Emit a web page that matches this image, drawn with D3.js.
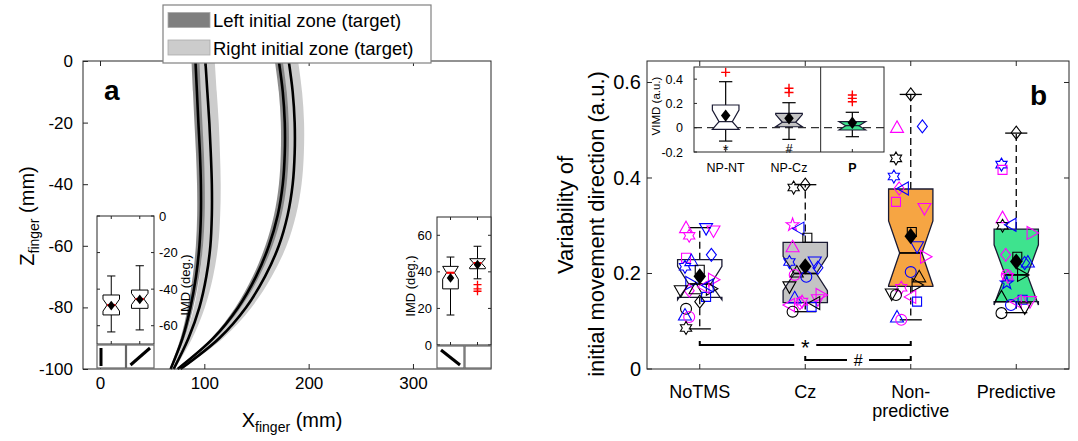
<!DOCTYPE html>
<html>
<head>
<meta charset="utf-8">
<script src="https://cdn.jsdelivr.net/npm/d3@7/dist/d3.min.js"></script>
<style>
html,body{margin:0;padding:0;background:#fff;}
svg{display:block;font-family:"Liberation Sans",Arial,Helvetica,sans-serif;}
</style>
</head>
<body>
<svg id="chart" width="1078" height="441"></svg>
<script>
// ================= DATA : panel a =================
const zLevels = [0,-10,-20,-30,-40,-50,-60,-70,-80,-90,-100];
const trajLeftTargetLZ  = [91.5,92.9,94.3,95.8,96.7,96.7,95.3,92.0,86.7,79.1,67.7];
const trajLeftTargetRZ  = [101.0,102.9,104.8,106.2,107.2,107.2,105.8,101.9,95.3,84.8,70.6];
const trajRightTargetLZ = [171.4,175.2,177.1,177.1,175.2,170.4,161.9,149.5,132.4,108.6,74.4];
const trajRightTargetRZ = [180.9,184.7,186.6,186.6,184.7,179.9,171.4,158.1,140.0,114.3,77.2];
const spreadLZ = [3.8,3.8,3.8,3.8,3.7,3.6,3.4,3.1,2.6,1.9,0.8];
const spreadRZ = [9.0,9.0,9.0,8.8,8.5,8.0,7.4,6.5,5.2,3.6,1.2];
const aXTicks = [0,100,200,300];
const aYTicks = [0,-20,-40,-60,-80,-100];
const legendLabels = ["Left initial zone (target)","Right initial zone (target)"];

// inset IMD boxes (left inset: negative angles, right inset: positive)
const imdL_q1  = [-54.1,-50.5];
const imdL_med = [-48.7,-45.4];
const imdL_q3  = [-43.2,-40.5];
const imdL_nLo = [-52.0,-48.5];
const imdL_nHi = [-45.5,-42.3];
const imdL_wLo = [-63.4,-62.3];
const imdL_wHi = [-32.8,-27.2];
const imdL_mean= [-49.0,-45.6];
const imdL_out = [[],[]];
const imdL_ticks = [0,-20,-40,-60];
const imdL_icons = ["|","/"];

const imdR_q1  = [30.7,41.7];
const imdR_med = [39.5,44.8];
const imdR_q3  = [43.0,47.2];
const imdR_nLo = [36.0,42.4];
const imdR_nHi = [43.0,47.2];
const imdR_wLo = [16.4,36.2];
const imdR_wHi = [48.1,54.0];
const imdR_mean= [36.7,43.9];
const imdR_out = [[],[33.0,30.7,29.4]];
const imdR_ticks = [0,20,40,60];
const imdR_icons = ["\\",""];

// ================= DATA : panel b =================
const conditions = ["NoTMS","Cz","Non-|predictive","Predictive"];
const bQ1    = [0.150,0.139,0.173,0.141];
const bMed   = [0.178,0.200,0.243,0.197];
const bQ3    = [0.229,0.265,0.377,0.293];
const bNLo   = [0.145,0.164,0.175,0.134];
const bNHi   = [0.215,0.236,0.310,0.260];
const bWLo   = [0.084,0.120,0.103,0.118];
const bWHi   = [0.296,0.386,0.575,0.494];
const bMean  = [0.194,0.215,0.278,0.225];
const bYTicks = [0,0.2,0.4,0.6];

// individual subjects: [value, x-jitter (category units), marker spec]
const subjNoTMS = [
 [0.296,-0.13,"^m"],[0.279,-0.10,"hm"],[0.294,0.06,"vb"],[0.289,0.13,"vm"],
 [0.233,-0.13,"sm"],[0.227,-0.08,"^b"],[0.239,0.11,"db"],[0.214,-0.14,"hb"],
 [0.208,0.00,"sk"],[0.187,0.13,">m"],[0.180,-0.085,">b"],[0.164,-0.10,"dm"],
 [0.164,-0.18,"vk"],[0.168,-0.04,"^k"],[0.168,0.11,">k"],[0.151,0.06,"sb"],
 [0.141,0.00,"dk"],[0.126,-0.13,"ok"],[0.113,-0.14,"^b"],[0.109,-0.10,"om"],
 [0.086,-0.13,"hk"],[0.172,0.04,"<m"],[0.175,0.08,"<b"]
];
const subjCz = [
 [0.380,-0.11,"hk"],[0.386,0.00,"dk"],[0.302,-0.12,"pm"],[0.294,-0.06,"<b"],
 [0.275,0.02,"sk"],[0.256,-0.12,"^m"],[0.224,-0.15,"hb"],[0.224,0.09,"vb"],
 [0.212,0.12,"db"],[0.203,-0.08,"^k"],[0.197,-0.10,"om"],[0.193,0.01,"ob"],
 [0.172,-0.15,"vk"],[0.149,-0.10,"^b"],[0.155,0.15,">m"],[0.145,0.12,"vm"],
 [0.134,-0.15,"<m"],[0.130,0.06,"sb"],[0.120,-0.12,"ok"],[0.138,-0.05,"dm"],
 [0.138,0.09,"<k"],[0.141,-0.03,"hm"]
];
const subjNonPred = [
 [0.575,0.00,"dk"],[0.506,-0.13,"^m"],[0.508,0.11,"db"],[0.441,-0.14,"hk"],
 [0.403,-0.16,"hb"],[0.378,-0.11,"dm"],[0.378,-0.07,"<b"],[0.350,-0.14,"sm"],
 [0.336,0.13,"vm"],[0.287,0.01,"sk"],[0.256,0.06,"vb"],[0.235,0.14,">m"],
 [0.203,0.00,"ob"],[0.193,0.08,"^k"],[0.176,0.06,">k"],[0.170,-0.09,"hm"],
 [0.155,-0.14,"ok"],[0.151,0.00,"<m"],[0.141,0.06,"sb"],[0.109,-0.13,"^b"],
 [0.103,-0.09,"om"],[0.157,-0.18,"vk"]
];
const subjPred = [
 [0.495,0.00,"dk"],[0.428,-0.14,"hb"],[0.417,-0.13,"sm"],[0.317,-0.13,"^m"],
 [0.300,-0.13,"hk"],[0.302,-0.05,"<b"],[0.285,0.15,">m"],[0.239,-0.10,"dm"],
 [0.235,0.01,"sk"],[0.222,0.08,"db"],[0.224,0.11,"^b"],[0.197,-0.09,"om"],
 [0.193,-0.08,"hm"],[0.197,0.06,">k"],[0.180,-0.09,"pb"],[0.151,-0.14,"^k"],
 [0.145,0.06,"sb"],[0.141,0.13,"vm"],[0.141,0.00,"<m"],[0.117,-0.14,"ok"],
 [0.128,0.08,"vk"],[0.134,-0.05,"ob"]
];
const subjects = [subjNoTMS, subjCz, subjNonPred, subjPred];

// significance brackets: [from, to, label, level]
const sigBrackets = [[1,3,"*",0.050],[2,3,"#",0.019]];

// inset (VIMD)
const insetCats = ["NP-NT","NP-Cz","P"];
const iQ1   = [-0.013,0.008,-0.019];
const iMed  = [0.050,0.045,0.017];
const iQ3   = [0.187,0.118,0.050];
const iNLo  = [-0.013,0.008,-0.019];
const iNHi  = [0.146,0.108,0.050];
const iWLo  = [-0.110,-0.096,-0.074];
const iWHi  = [0.379,0.206,0.127];
const iMean = [0.100,0.077,0.041];
const iOut  = [[0.456],[0.325,0.290],[0.270,0.242,0.214]];
const iSig  = ["*","#",""];
const iYTicks = [-0.2,0,0.2,0.4];

// ================= STYLE =================
const INK = "#262626";
const boxFills = ["#ffffff","#c4c4c4","#f6a543","#3ee38e"];
const insetFills = ["#ffffff","#c4c4c4","#3ee38e"];
const markerColors = {k:"#000000", b:"#0000ff", m:"#ff00ff"};

const svg = d3.select("#chart");

// ---------- helpers ----------
function notchPath(xc, hw, ys, q1, q3, nlo, nhi, med){
  const L = xc-hw, R = xc+hw, d = hw/2, p = d3.path();
  p.moveTo(L, ys(q3)); p.lineTo(R, ys(q3)); p.lineTo(R, ys(nhi));
  p.lineTo(R-d, ys(med)); p.lineTo(R, ys(nlo)); p.lineTo(R, ys(q1));
  p.lineTo(L, ys(q1)); p.lineTo(L, ys(nlo)); p.lineTo(L+d, ys(med));
  p.lineTo(L, ys(nhi)); p.closePath();
  return p.toString();
}
function star(n, ro, ri){
  const p = d3.path();
  for(let i=0;i<2*n;i++){
    const a = -Math.PI/2 + i*Math.PI/n, r = i%2 ? ri : ro;
    const x = r*Math.cos(a), y = r*Math.sin(a);
    i ? p.lineTo(x,y) : p.moveTo(x,y);
  }
  p.closePath(); return p.toString();
}
function poly(pts){ return "M"+pts.map(p=>p.join(",")).join("L")+"Z"; }
function markerPath(sh, k){
  k = k||1;
  switch(sh){
    case "o": return d3.symbol(d3.symbolCircle, Math.PI*30*k*k)();
    case "s": return poly([[-4.5*k,-4.5*k],[4.5*k,-4.5*k],[4.5*k,4.5*k],[-4.5*k,4.5*k]]);
    case "d": return poly([[0,-6.5*k],[5*k,0],[0,6.5*k],[-5*k,0]]);
    case "^": return poly([[0,-6.5*k],[6.5*k,5*k],[-6.5*k,5*k]]);
    case "v": return poly([[0,6.5*k],[6.5*k,-5*k],[-6.5*k,-5*k]]);
    case ">": return poly([[6.5*k,0],[-5*k,-6.5*k],[-5*k,6.5*k]]);
    case "<": return poly([[-6.5*k,0],[5*k,-6.5*k],[5*k,6.5*k]]);
    case "h": return star(6, 6.5*k, 3.75*k);
    case "p": return star(5, 6.8*k, 2.7*k);
  }
}
function frame(g, x0, y0, x1, y1, col){
  g.append("rect").attr("x",x0).attr("y",y0).attr("width",x1-x0).attr("height",y1-y0)
   .attr("fill","none").attr("stroke",col||INK).attr("stroke-width",1);
}

// ================= PANEL a =================
const A = {l:83, r:491, t:61, b:369};
const xA = d3.scaleLinear().domain([-16.3, 374.8]).range([A.l, A.r]);
const yA = d3.scaleLinear().domain([-100, 0]).range([A.b, A.t]);
const gA = svg.append("g");

const bandGen = (mean, spread) => d3.area().curve(d3.curveCatmullRom)
   .y((d,i)=>yA(d)).x0((d,i)=>xA(mean[i]-spread[i])).x1((d,i)=>xA(mean[i]+spread[i]))(zLevels);
const lineGen = (mean) => d3.line().curve(d3.curveCatmullRom)
   .x((d,i)=>xA(mean[i])).y(d=>yA(d))(zLevels);

[trajLeftTargetRZ, trajRightTargetRZ].forEach(m=>{
  gA.append("path").attr("d", bandGen(m, spreadRZ)).attr("fill","#cccccc");
});
[trajLeftTargetLZ, trajRightTargetLZ].forEach(m=>{
  gA.append("path").attr("d", bandGen(m, spreadLZ)).attr("fill","#7f7f7f").attr("opacity",0.9);
});
[trajLeftTargetLZ, trajLeftTargetRZ, trajRightTargetLZ, trajRightTargetRZ].forEach(m=>{
  gA.append("path").attr("d", lineGen(m)).attr("fill","none").attr("stroke","#000").attr("stroke-width",2.6);
});

// axes of panel a
frame(gA, A.l, A.t, A.r, A.b);
gA.append("g").attr("transform",`translate(${A.l},0)`)
  .call(d3.axisLeft(yA).tickValues(aYTicks).tickSize(-5).tickSizeOuter(0).tickPadding(10).tickFormat(d=>String(d)))
  .call(g=>{g.select(".domain").remove(); g.selectAll("line").attr("stroke",INK);
            g.selectAll("text").attr("font-size",17).attr("fill","#000").attr("font-family",null);});
gA.append("g").attr("transform",`translate(0,${A.b})`)
  .call(d3.axisBottom(xA).tickValues(aXTicks).tickSize(-5).tickSizeOuter(0).tickPadding(8).tickFormat(d=>String(d)))
  .call(g=>{g.select(".domain").remove(); g.selectAll("line").attr("stroke",INK);
            g.selectAll("text").attr("font-size",17).attr("fill","#000").attr("font-family",null);});
gA.append("g").attr("transform",`translate(0,${A.t})`)
  .call(d3.axisTop(xA).tickValues(aXTicks).tickSize(-5).tickSizeOuter(0).tickFormat(""))
  .call(g=>{g.select(".domain").remove(); g.selectAll("line").attr("stroke",INK);});

// axis labels panel a
const zl = gA.append("text").attr("transform",`translate(34,216) rotate(-90)`)
  .attr("text-anchor","middle").attr("font-size",20).attr("fill","#000");
zl.append("tspan").text("Z");
zl.append("tspan").attr("font-size",14).attr("dy",5).text("finger");
zl.append("tspan").attr("dy",-5).text(" (mm)");
const xl = gA.append("text").attr("transform",`translate(292,427)`)
  .attr("text-anchor","middle").attr("font-size",20).attr("fill","#000");
xl.append("tspan").text("X");
xl.append("tspan").attr("font-size",14).attr("dy",5).text("finger");
xl.append("tspan").attr("dy",-5).text(" (mm)");
gA.append("text").attr("x",104).attr("y",100).attr("font-size",28).attr("font-weight","bold").text("a");

// ---- insets in panel a ----
function imdInset(P, yDom, q1,med,q3,nlo,nhi,wlo,whi,mean,outs,ticks,icons,axisRight){
  const g = svg.append("g");
  const xs = d3.scaleLinear().domain([0.5,2.5]).range([P.l,P.r]);
  const ys = d3.scaleLinear().domain(yDom).range([P.b,P.t]);
  g.append("rect").attr("x",P.l).attr("y",P.t).attr("width",P.r-P.l).attr("height",P.ib-P.t).attr("fill","#fff");
  const hw = 0.29*(xs(2)-xs(1));
  q1.forEach((_,i)=>{
    const xc = xs(i+1), cap = hw*0.5;
    g.append("line").attr("x1",xc).attr("x2",xc).attr("y1",ys(q3[i])).attr("y2",ys(whi[i])).attr("stroke","#000");
    g.append("line").attr("x1",xc).attr("x2",xc).attr("y1",ys(q1[i])).attr("y2",ys(wlo[i])).attr("stroke","#000");
    g.append("line").attr("x1",xc-cap).attr("x2",xc+cap).attr("y1",ys(whi[i])).attr("y2",ys(whi[i])).attr("stroke","#000");
    g.append("line").attr("x1",xc-cap).attr("x2",xc+cap).attr("y1",ys(wlo[i])).attr("y2",ys(wlo[i])).attr("stroke","#000");
    g.append("path").attr("d",notchPath(xc,hw,ys,q1[i],q3[i],nlo[i],nhi[i],med[i])).attr("fill","#fff").attr("stroke","#000").attr("stroke-width",1);
    g.append("line").attr("x1",xc-hw/2).attr("x2",xc+hw/2).attr("y1",ys(med[i])).attr("y2",ys(med[i])).attr("stroke","#ff0000").attr("stroke-width",2.2);
    g.append("path").attr("transform",`translate(${xc},${ys(mean[i])})`).attr("d",markerPath("d",0.75)).attr("fill","#000");
    outs[i].forEach(v=>{
      g.append("path").attr("transform",`translate(${xc},${ys(v)})`).attr("d","M-4,0H4M0,-4V4").attr("stroke","#ff0000").attr("stroke-width",1.3);
    });
  });
  frame(g,P.l,P.t,P.r,P.b);
  ticks.forEach(t=>{
    g.append("line").attr("x1",P.l).attr("x2",P.l+3).attr("y1",ys(t)).attr("y2",ys(t)).attr("stroke",INK);
    g.append("line").attr("x1",P.r).attr("x2",P.r-3).attr("y1",ys(t)).attr("y2",ys(t)).attr("stroke",INK);
    g.append("text").attr("x", axisRight ? P.r+5 : P.l-5).attr("y",ys(t)+4.5)
     .attr("text-anchor", axisRight ? "start":"end").attr("font-size",13).attr("fill","#000").text(String(t));
  });
  [1,2].forEach(c=>{
    g.append("line").attr("x1",xs(c)).attr("x2",xs(c)).attr("y1",P.t).attr("y2",P.t+3).attr("stroke",INK);
    g.append("line").attr("x1",xs(c)).attr("x2",xs(c)).attr("y1",P.b).attr("y2",P.b-3).attr("stroke",INK);
  });
  const lx = axisRight ? P.r+36 : P.l-22;
  g.append("text").attr("transform",`translate(${lx},${(P.t+P.b)/2+5}) rotate(-90)`).attr("text-anchor","middle")
   .attr("font-size",13).attr("fill","#000").text("IMD (deg.)");
  const mid = (P.l+P.r)/2;
  [[P.l,mid],[mid+1,P.r]].forEach((seg,i)=>{
    const [a,b] = seg;
    g.append("rect").attr("x",a).attr("y",P.b+1).attr("width",b-a).attr("height",P.ib-P.b-1)
     .attr("fill","#fff").attr("stroke","#666").attr("stroke-width",1.2);
    const ic = icons[i], y0 = P.b+4, y1 = P.ib-2;
    let ln = null;
    if(ic==="|") ln=[a+4,y0,a+4,y1];
    if(ic==="/") ln=[a+4,y1-1,b-4,y0];
    if(ic==="\\") ln=[a+4,y0+1,b-4,y1-1];
    if(ln) g.append("line").attr("x1",ln[0]).attr("y1",ln[1]).attr("x2",ln[2]).attr("y2",ln[3]).attr("stroke","#000").attr("stroke-width",3);
  });
}
imdInset({l:97,r:154,t:216,b:344,ib:368},[-70,0],imdL_q1,imdL_med,imdL_q3,imdL_nLo,imdL_nHi,imdL_wLo,imdL_wHi,imdL_mean,imdL_out,imdL_ticks,imdL_icons,true);
imdInset({l:437,r:491,t:217,b:345,ib:368},[0,70],imdR_q1,imdR_med,imdR_q3,imdR_nLo,imdR_nHi,imdR_wLo,imdR_wHi,imdR_mean,imdR_out,imdR_ticks,imdR_icons,false);

// legend
const lg = svg.append("g");
lg.append("rect").attr("x",163).attr("y",5).attr("width",268).attr("height",58).attr("fill","#fff").attr("stroke","#808080").attr("stroke-width",1.2);
["#7f7f7f","#cccccc"].forEach((c,i)=>{
  lg.append("rect").attr("x",168).attr("y",12.5+i*27.5).attr("width",42).attr("height",15).attr("fill",c).attr("stroke","#aaa").attr("stroke-width",0.8);
  lg.append("text").attr("x",213).attr("y",27+i*27.5).attr("font-size",18.5).attr("fill","#000").text(legendLabels[i]);
});

// ================= PANEL b =================
const B = {l:647, r:1069, t:61, b:369};
const xB = d3.scaleLinear().domain([0.5,4.5]).range([B.l,B.r]);
const yB = d3.scaleLinear().domain([0,0.645]).range([B.b,B.t]);
const gB = svg.append("g");
const bhw = 0.21*(xB(2)-xB(1));

conditions.forEach((c,i)=>{
  const xc = xB(i+1), cap = bhw*0.5;
  [[bQ3[i],bWHi[i]],[bQ1[i],bWLo[i]]].forEach(([a,b])=>{
    gB.append("line").attr("x1",xc).attr("x2",xc).attr("y1",yB(a)).attr("y2",yB(b))
      .attr("stroke","#000").attr("stroke-width",1.3).attr("stroke-dasharray","7,4");
    gB.append("line").attr("x1",xc-cap).attr("x2",xc+cap).attr("y1",yB(b)).attr("y2",yB(b)).attr("stroke","#000").attr("stroke-width",1.3);
  });
  gB.append("path").attr("d",notchPath(xc,bhw,yB,bQ1[i],bQ3[i],bNLo[i],bNHi[i],bMed[i]))
    .attr("fill",boxFills[i]).attr("stroke","#1a1a33").attr("stroke-width",1.3);
  gB.append("line").attr("x1",xc-bhw/2).attr("x2",xc+bhw/2).attr("y1",yB(bMed[i])).attr("y2",yB(bMed[i])).attr("stroke","#000").attr("stroke-width",1.8);
  subjects[i].forEach(([v,j,spec])=>{
    gB.append("path").attr("transform",`translate(${xB(i+1+j)},${yB(v)})`)
      .attr("d",markerPath(spec[0])).attr("fill","none").attr("stroke",markerColors[spec[1]]).attr("stroke-width",1.1);
  });
  gB.append("path").attr("transform",`translate(${xc},${yB(bMean[i])})`).attr("d",markerPath("d",1.25)).attr("fill","#000");
});

sigBrackets.forEach(([a,b,lab,lev])=>{
  const x0 = xB(a), x1 = xB(b), y = yB(lev), xm = (x0+x1)/2;
  const gap = 11;
  gB.append("path").attr("d",`M${x0},${y-4}V${y}H${xm-gap}M${xm+gap},${y}H${x1}V${y-4}`)
    .attr("fill","none").attr("stroke","#000").attr("stroke-width",2);
  gB.append("text").attr("x",xm).attr("y",y+(lab==="*"?10:6)).attr("text-anchor","middle")
    .attr("font-size",lab==="*"?22:16).attr("font-style",lab==="#"?"italic":null).text(lab);
});

frame(gB,B.l,B.t,B.r,B.b);
bYTicks.forEach(t=>{
  gB.append("line").attr("x1",B.l).attr("x2",B.l+5).attr("y1",yB(t)).attr("y2",yB(t)).attr("stroke",INK);
  gB.append("line").attr("x1",B.r).attr("x2",B.r-5).attr("y1",yB(t)).attr("y2",yB(t)).attr("stroke",INK);
  gB.append("text").attr("x",B.l-6).attr("y",yB(t)+7).attr("text-anchor","end").attr("font-size",20).text(String(t));
});
conditions.forEach((c,i)=>{
  const xc = xB(i+1);
  gB.append("line").attr("x1",xc).attr("x2",xc).attr("y1",B.b).attr("y2",B.b-5).attr("stroke",INK);
  gB.append("line").attr("x1",xc).attr("x2",xc).attr("y1",B.t).attr("y2",B.t+5).attr("stroke",INK);
  c.split("|").forEach((s,k)=>{
    gB.append("text").attr("x",xc).attr("y",398+k*19).attr("text-anchor","middle").attr("font-size",18).text(s);
  });
});
gB.append("text").attr("transform",`translate(573,215) rotate(-90)`).attr("text-anchor","middle").attr("font-size",22).text("Variability of");
gB.append("text").attr("transform",`translate(604,224) rotate(-90)`).attr("text-anchor","middle").attr("font-size",22).text("initial movement direction (a.u.)");
gB.append("text").attr("x",1030).attr("y",105).attr("font-size",28).attr("font-weight","bold").text("b");

// ---- inset VIMD ----
const I = {l:694, r:884, t:67, b:152};
const xI = d3.scaleLinear().domain([0.5,3.5]).range([I.l,I.r]);
const yI = d3.scaleLinear().domain([-0.2,0.5]).range([I.b,I.t]);
const gI = svg.append("g");
gI.append("rect").attr("x",I.l).attr("y",I.t).attr("width",I.r-I.l).attr("height",I.b-I.t).attr("fill","#fff");
gI.append("line").attr("x1",I.l).attr("x2",I.r).attr("y1",yI(0)).attr("y2",yI(0))
  .attr("stroke","#333").attr("stroke-width",1.2).attr("stroke-dasharray","8,5");
const ihw = 0.21*(xI(2)-xI(1));
insetCats.forEach((c,i)=>{
  const xc = xI(i+1), cap = ihw*0.5;
  [[iQ3[i],iWHi[i]],[iQ1[i],iWLo[i]]].forEach(([a,b])=>{
    gI.append("line").attr("x1",xc).attr("x2",xc).attr("y1",yI(a)).attr("y2",yI(b)).attr("stroke","#000").attr("stroke-width",1.2);
    gI.append("line").attr("x1",xc-cap).attr("x2",xc+cap).attr("y1",yI(b)).attr("y2",yI(b)).attr("stroke","#000").attr("stroke-width",1.2);
  });
  gI.append("path").attr("d",notchPath(xc,ihw,yI,iQ1[i],iQ3[i],iNLo[i],iNHi[i],iMed[i]))
    .attr("fill",insetFills[i]).attr("stroke","#1a1a33").attr("stroke-width",1.2);
  gI.append("line").attr("x1",xc-ihw/2).attr("x2",xc+ihw/2).attr("y1",yI(iMed[i])).attr("y2",yI(iMed[i])).attr("stroke","#1a1a33").attr("stroke-width",1.2);
  gI.append("path").attr("transform",`translate(${xc},${yI(iMean[i])})`).attr("d",markerPath("d",0.95)).attr("fill","#000");
  iOut[i].forEach(v=>{
    gI.append("path").attr("transform",`translate(${xc},${yI(v)})`).attr("d","M-4.5,0H4.5M0,-4.5V4.5").attr("stroke","#ff0000").attr("stroke-width",1.4);
  });
  if(iSig[i]) gI.append("text").attr("x",xc).attr("y",iSig[i]==="*"?155:152.5).attr("text-anchor","middle")
     .attr("font-size",iSig[i]==="*"?15:13).text(iSig[i]);
  gI.append("text").attr("x",xc).attr("y",I.b+20).attr("text-anchor","middle").attr("font-size",12.5)
    .attr("font-weight",c==="P"?"bold":null).text(c);
  gI.append("line").attr("x1",xc).attr("x2",xc).attr("y1",I.b).attr("y2",I.b-3).attr("stroke",INK);
});
gI.append("line").attr("x1",xI(2.5)).attr("x2",xI(2.5)).attr("y1",I.t).attr("y2",I.b).attr("stroke",INK);
frame(gI,I.l,I.t,I.r,I.b);
iYTicks.forEach(t=>{
  gI.append("line").attr("x1",I.l).attr("x2",I.l+3).attr("y1",yI(t)).attr("y2",yI(t)).attr("stroke",INK);
  gI.append("text").attr("x",I.l-11).attr("y",yI(t)+4.5).attr("text-anchor","end").attr("font-size",12.5).text(String(t));
});
gI.append("text").attr("transform",`translate(660,106) rotate(-90)`).attr("text-anchor","middle")
  .attr("font-size",11.5).text("VIMD (a.u.)");
</script>
</body>
</html>
